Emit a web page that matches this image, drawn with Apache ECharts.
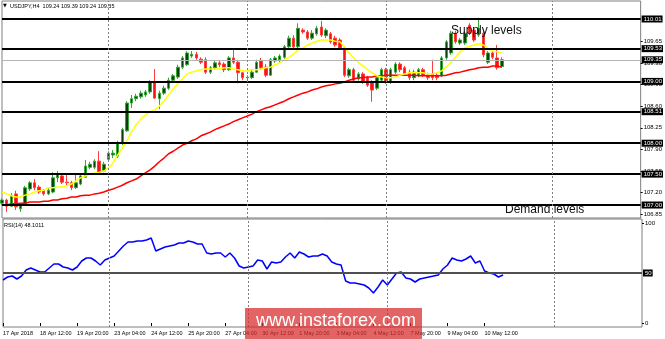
<!DOCTYPE html>
<html><head><meta charset="utf-8">
<script src="https://cdn.jsdelivr.net/npm/echarts@6/dist/echarts.min.js"></script>
<style>html,body{margin:0;padding:0;background:#fff}#c{width:665px;height:339px}</style>
</head><body><div id="c"></div>
<script>
const opens = [107.03,107.08,106.98,107.18,106.94,107.02,107.26,107.36,107.29,107.23,107.18,107.21,107.44,107.47,107.37,107.36,107.28,107.34,107.45,107.61,107.61,107.71,107.55,107.74,107.81,107.79,108.00,108.20,108.65,108.72,108.75,108.78,108.83,108.99,108.72,108.81,108.89,109.02,109.07,109.23,109.27,109.41,109.44,109.36,109.35,109.15,109.22,109.30,109.28,109.19,109.38,109.31,109.14,109.06,109.06,109.15,109.33,109.23,109.10,109.33,109.35,109.39,109.56,109.70,109.56,109.83,109.80,109.70,109.77,109.88,109.74,109.77,109.70,109.67,109.54,109.09,109.19,109.04,109.12,109.06,108.99,108.89,109.02,109.19,108.99,109.15,109.28,109.22,109.15,109.06,109.10,109.19,109.10,109.12,109.10,109.10,109.38,109.46,109.78,109.62,109.62,109.91,109.83,109.75,109.78,109.31,109.46,109.38,109.24];
const closes = [107.08,106.98,107.15,106.97,107.00,107.28,107.36,107.28,107.21,107.18,107.24,107.44,107.49,107.37,107.36,107.28,107.36,107.47,107.63,107.66,107.71,107.53,107.66,107.84,107.84,108.00,108.22,108.65,108.72,108.76,108.81,108.83,108.99,108.73,108.81,108.89,109.02,109.09,109.23,109.38,109.46,109.44,109.38,109.31,109.15,109.22,109.30,109.27,109.19,109.38,109.31,109.14,109.06,109.07,109.15,109.31,109.22,109.10,109.35,109.38,109.41,109.56,109.70,109.56,109.86,109.80,109.70,109.78,109.86,109.75,109.83,109.64,109.59,109.54,109.10,109.19,109.02,109.12,108.99,108.94,108.86,109.06,109.19,108.99,109.19,109.28,109.19,109.12,109.06,109.15,109.19,109.10,109.06,109.06,109.06,109.38,109.64,109.78,109.64,109.67,109.78,109.78,109.67,109.86,109.43,109.46,109.39,109.22,109.35];
const lows = [107.00,106.89,106.97,106.92,106.89,107.00,107.23,107.24,107.18,107.15,107.16,107.19,107.37,107.34,107.32,107.24,107.26,107.32,107.44,107.58,107.58,107.50,107.53,107.71,107.76,107.76,107.97,108.18,108.57,108.68,108.72,108.75,108.80,108.72,108.55,108.78,108.86,108.99,109.04,109.20,109.25,109.38,109.35,109.28,109.12,109.12,109.19,109.23,109.15,109.17,109.28,108.97,109.02,109.02,109.04,109.14,109.19,109.07,109.09,109.30,109.31,109.36,109.52,109.52,109.54,109.77,109.67,109.67,109.74,109.72,109.70,109.61,109.56,109.51,109.07,109.06,108.99,109.01,108.96,108.91,108.67,108.86,108.99,108.96,108.96,109.12,109.15,109.09,109.02,109.02,109.07,109.07,109.02,109.02,109.02,109.07,109.35,109.43,109.61,109.59,109.59,109.75,109.64,109.72,109.39,109.28,109.36,109.19,109.24];
const highs = [107.11,107.10,107.19,107.23,107.03,107.31,107.39,107.42,107.32,107.26,107.28,107.53,107.55,107.49,107.49,107.39,107.50,107.50,107.73,107.70,107.74,107.87,107.70,107.87,107.89,108.04,108.25,108.68,108.78,108.80,108.85,108.86,109.02,109.20,108.85,108.93,109.06,109.12,109.27,109.41,109.49,109.49,109.48,109.39,109.39,109.25,109.33,109.33,109.31,109.41,109.51,109.35,109.15,109.10,109.19,109.35,109.38,109.28,109.38,109.41,109.44,109.59,109.74,109.75,109.94,109.86,109.83,109.83,109.90,109.98,109.86,109.80,109.74,109.70,109.57,109.22,109.22,109.15,109.15,109.09,109.02,109.09,109.22,109.22,109.22,109.31,109.31,109.25,109.19,109.19,109.22,109.22,109.14,109.35,109.14,109.41,109.67,109.82,109.82,109.70,109.82,109.94,109.86,110.03,109.82,109.49,109.49,109.59,109.39];
const maFast = [107.21,107.18,107.15,107.13,107.13,107.16,107.18,107.21,107.23,107.24,107.28,107.28,107.29,107.29,107.31,107.34,107.39,107.44,107.47,107.50,107.52,107.53,107.55,107.60,107.68,107.81,107.92,108.04,108.18,108.30,108.39,108.46,108.51,108.54,108.60,108.68,108.78,108.88,108.96,109.04,109.12,109.15,109.17,109.19,109.20,109.20,109.20,109.20,109.22,109.22,109.20,109.19,109.17,109.17,109.19,109.19,109.20,109.22,109.23,109.27,109.30,109.35,109.39,109.44,109.51,109.54,109.59,109.62,109.65,109.67,109.67,109.67,109.65,109.64,109.56,109.46,109.38,109.31,109.25,109.19,109.14,109.09,109.07,109.06,109.06,109.07,109.10,109.12,109.14,109.14,109.14,109.14,109.12,109.12,109.14,109.17,109.23,109.31,109.39,109.48,109.54,109.57,109.59,109.61,109.59,109.54,109.49,109.48,109.46];
const maSlow = [107.00,107.00,107.02,107.02,107.03,107.03,107.05,107.05,107.05,107.06,107.06,107.08,107.08,107.10,107.11,107.13,107.13,107.15,107.16,107.16,107.18,107.19,107.21,107.24,107.26,107.29,107.32,107.36,107.39,107.42,107.47,107.52,107.57,107.63,107.70,107.76,107.83,107.87,107.92,107.97,108.00,108.04,108.07,108.12,108.15,108.18,108.22,108.25,108.28,108.31,108.35,108.38,108.41,108.44,108.47,108.51,108.54,108.57,108.59,108.62,108.65,108.68,108.72,108.75,108.78,108.81,108.83,108.86,108.88,108.91,108.93,108.94,108.96,108.97,108.99,109.02,109.04,109.06,109.06,109.07,109.07,109.09,109.09,109.10,109.10,109.10,109.10,109.10,109.10,109.10,109.09,109.09,109.09,109.09,109.09,109.09,109.10,109.12,109.14,109.15,109.17,109.19,109.20,109.22,109.23,109.23,109.25,109.25,109.23];
const rsi = [43,46,47,44,47,53,55,53,51,51,55,59,59,56,55,53,56,62,65,65,62,58,63,65,67,72,77,81,81,82,82,83,85,72,74,76,77,78,80,80,82,81,79,79,70,69,70,70,66,70,65,57,55,56,57,63,62,54,61,60,61,66,70,65,71,69,66,67,67,69,67,61,59,58,42,40,40,39,38,35,30,36,43,38,44,50,51,45,44,41,44,45,46,47,48,54,58,65,63,62,64,67,60,62,52,50,49,46,48];
const levels = [110.01, 109.53, 109.00, 108.51, 108.00, 107.50, 107.00];
const lastPrice = 109.35;
const priceTicks = [106.85, 107.20, 107.55, 107.90, 108.25, 108.60, 108.95, 109.30, 109.65];
const rsiTicks = [0, 100];
const rsiLevel = 50;
const xLabelIdx = [0, 8, 16, 24, 32, 40, 48, 56, 64, 72, 80, 88, 96, 104];
const xLabels = ['17 Apr 2018','18 Apr 12:00','19 Apr 20:00','23 Apr 04:00','24 Apr 12:00','25 Apr 20:00','27 Apr 04:00','30 Apr 12:00','1 May 20:00','3 May 04:00','4 May 12:00','7 May 20:00','9 May 04:00','10 May 12:00'];
const separators = [23, 53, 83, 119];
const totalBars = 139;
const titleText = 'USDJPY,H4  109.24 109.39 109.24 109.35';
const rsiText = 'RSI(14) 48.1011';

const FONT = "'Liberation Sans', Arial, sans-serif";
const cats = Array.from({length: totalBars}, (_, i) => i);
const candles = opens.map((o, i) => [o, closes[i], lows[i], highs[i]]);

const boxLabel = (dec) => ({
  show: true, position: 'end', distance: 1,
  formatter: p => Number(p.value).toFixed(dec),
  backgroundColor: '#000', color: '#fff', padding: [1, 1, 0, 2],
  fontSize: 6, fontFamily: FONT
});
const sepLines = separators.map(s => ({xAxis: s}));

const chart = echarts.init(document.getElementById('c'), null, {renderer: 'canvas'});
chart.setOption({
  animation: false,
  backgroundColor: '#fff',
  grid: [
    {left: 2, top: 1, width: 640, height: 217, show: true, borderColor: '#7f7f7f', borderWidth: 1},
    {left: 2, top: 219, width: 640, height: 108, show: true, borderColor: '#7f7f7f', borderWidth: 1}
  ],
  xAxis: [
    {gridIndex: 0, type: 'category', data: cats, boundaryGap: false,
     axisLine: {show: false}, axisTick: {show: false}, axisLabel: {show: false}, splitLine: {show: false}},
    {gridIndex: 1, type: 'category', data: cats, boundaryGap: false,
     axisLine: {show: false},
     axisTick: {show: true, length: 3, interval: (i) => xLabelIdx.includes(i), lineStyle: {color: '#000'}},
     axisLabel: {show: true, interval: (i) => xLabelIdx.includes(i), align: 'left', margin: 3,
       formatter: (v) => { const k = xLabelIdx.indexOf(Number(v)); return k >= 0 ? xLabels[k] : ''; },
       fontSize: 5.5, fontFamily: FONT, color: '#000'},
     splitLine: {show: false}}
  ],
  yAxis: [
    {gridIndex: 0, type: 'value', position: 'right', min: 106.79, max: 110.301,
     axisLine: {show: false}, splitLine: {show: false},
     axisTick: {show: true, customValues: priceTicks, length: 2, lineStyle: {color: '#000'}},
     axisLabel: {customValues: priceTicks, formatter: v => Number(v).toFixed(2), fontSize: 6, margin: 3,
       color: '#000', fontFamily: FONT}},
    {gridIndex: 1, type: 'value', position: 'right', min: -4, max: 104,
     axisLine: {show: false}, splitLine: {show: false},
     axisTick: {show: true, customValues: rsiTicks, length: 2, lineStyle: {color: '#000'}},
     axisLabel: {customValues: rsiTicks, formatter: v => String(v), fontSize: 6, margin: 3,
       color: '#000', fontFamily: FONT}}
  ],
  series: [
    {type: 'line', xAxisIndex: 0, yAxisIndex: 0, data: [], z: 1, silent: true,
     markLine: {silent: true, symbol: ['none', 'none'], animation: false,
       data: [
         ...levels.map(v => ({yAxis: v, lineStyle: {color: '#000', width: 2, type: 'solid'}, label: boxLabel(2)})),
         {yAxis: lastPrice, lineStyle: {color: '#b4b4b4', width: 1, type: 'solid'}, label: boxLabel(2)},
         ...sepLines.map(d => ({...d, lineStyle: {color: '#808080', width: 1, type: [2, 2]}, label: {show: false}}))
       ]}},
    {type: 'candlestick', xAxisIndex: 0, yAxisIndex: 0, data: candles, barWidth: 3, z: 2,
     itemStyle: {color: '#0c3f0c', borderColor: '#35a835', color0: '#ff1010', borderColor0: '#ff3c3c', borderWidth: 1}},
    {type: 'line', xAxisIndex: 0, yAxisIndex: 0, data: maSlow, symbol: 'none', z: 3,
     lineStyle: {color: '#ff0000', width: 1.5}},
    {type: 'line', xAxisIndex: 0, yAxisIndex: 0, data: maFast, symbol: 'none', z: 3,
     lineStyle: {color: '#ffff00', width: 1.5}},
    {type: 'line', xAxisIndex: 1, yAxisIndex: 1, data: rsi, symbol: 'none', z: 3,
     lineStyle: {color: '#0000ff', width: 1.5},
     markLine: {silent: true, symbol: ['none', 'none'], animation: false,
       data: [
         {yAxis: rsiLevel, lineStyle: {color: '#505050', width: 2, type: 'solid'}, label: boxLabel(0)},
         ...sepLines.map(d => ({...d, lineStyle: {color: '#808080', width: 1, type: [2, 2]}, label: {show: false}}))
       ]}}
  ],
  graphic: [
    {type: 'text', left: 3, top: 3, z: 10, style: {text: '▼', fontSize: 5, fill: '#000', fontFamily: 'DejaVu Sans'}},
    {type: 'text', left: 10, top: 3, z: 10, style: {text: titleText, fontSize: 5.5, fill: '#000', fontFamily: FONT}},
    {type: 'text', left: 4, top: 222, z: 10, style: {text: rsiText, fontSize: 5.5, fill: '#000', fontFamily: FONT}},
    {type: 'text', left: 451, top: 25, z: 10, style: {text: 'Supply levels', fontSize: 12, fill: '#111', fontFamily: FONT}},
    {type: 'text', left: 505, top: 204, z: 10, style: {text: 'Demand levels', fontSize: 12, fill: '#111', fontFamily: FONT}},
    {type: 'rect', left: 245, top: 308, z: 20, shape: {width: 177, height: 31}, style: {fill: 'rgba(215,40,40,0.72)'}},
    {type: 'text', left: 256, top: 312, z: 21, style: {text: 'www.instaforex.com', fontSize: 18, fill: '#fff', fontFamily: FONT}}
  ]
});
</script>
</body></html>
